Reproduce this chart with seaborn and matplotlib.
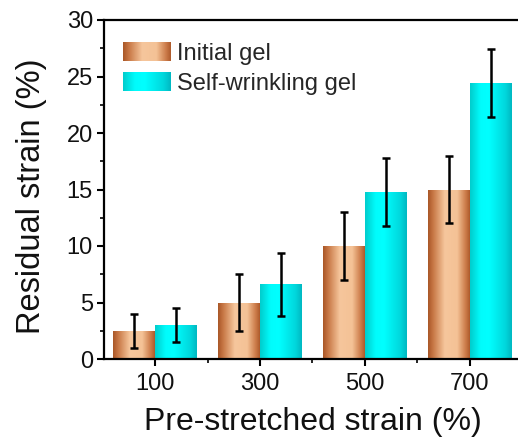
import numpy as np
import pandas as pd
import seaborn as sns
import matplotlib.pyplot as plt
from matplotlib.patches import Patch
from matplotlib.ticker import MultipleLocator, FixedLocator

strain = ['100', '300', '500', '700']
groups = ['Initial gel', 'Self-wrinkling gel']
initial = [2.5, 5.0, 10.0, 15.0]
initial_err = [1.5, 2.5, 3.0, 3.0]
wrinkled = [3.0, 6.6, 14.8, 24.4]
wrinkled_err = [1.5, 2.8, 3.0, 3.0]

df = pd.DataFrame({
    'strain': strain * 2,
    'group': [groups[0]] * 4 + [groups[1]] * 4,
    'value': initial + wrinkled,
})

sns.set_style('ticks')
plt.rcParams['font.family'] = ['Liberation Sans', 'DejaVu Sans']


def gradient(stops, n=64):
    pos = np.array([s[0] for s in stops])
    cols = np.array([s[1] for s in stops], dtype=float) / 255
    x = np.linspace(0, 1, n)
    rgb = np.stack([np.interp(x, pos, cols[:, k]) for k in range(3)], axis=-1)
    return rgb[np.newaxis, :, :]


copper = gradient([(0, (170, 88, 40)), (0.12, (200, 120, 70)), (0.4, (246, 198, 156)),
                   (0.7, (244, 194, 150)), (0.9, (205, 125, 75)), (1, (175, 92, 45))])
cyan = gradient([(0, (0, 205, 205)), (0.25, (0, 252, 252)), (0.45, (0, 255, 255)),
                 (0.85, (0, 215, 220)), (1, (0, 185, 195))])
fills = [copper, cyan]

fig = plt.figure(figsize=(5.18, 4.46), dpi=100)
ax = fig.add_axes([104 / 518, 87 / 446, 417 / 518, 339 / 446])

sns.barplot(data=df, x='strain', y='value', hue='group', order=strain, hue_order=groups,
            palette=['#e0a070', '#00ffff'], width=0.8, errorbar=None, ax=ax, zorder=2)

errs = [initial_err, wrinkled_err]
vals = [initial, wrinkled]
bar_conts = list(ax.containers)
for i, cont in enumerate(bar_conts):
    xs = []
    for bar in cont:
        x0, y0, w, h = bar.get_x(), bar.get_y(), bar.get_width(), bar.get_height()
        img = ax.imshow(fills[i], extent=[x0, x0 + w, y0, y0 + h], aspect='auto',
                        interpolation='bilinear', zorder=2)
        img.set_clip_path(bar)
        bar.set_facecolor('none')
        bar.set_edgecolor('none')
        xs.append(x0 + w / 2)
    ax.errorbar(xs, vals[i], yerr=errs[i], fmt='none', ecolor='black', elinewidth=1.8,
                capsize=3.2, capthick=1.8, zorder=4)

ax.set_xlim(-0.486, 3.486)
ax.set_ylim(0, 30)
ax.yaxis.set_major_locator(MultipleLocator(5))
ax.yaxis.set_minor_locator(MultipleLocator(2.5))
ax.xaxis.set_minor_locator(FixedLocator([0.5, 1.5, 2.5]))
ax.tick_params(axis='both', which='major', direction='out', length=5, width=1.5,
               labelsize=17, color='black', labelcolor='#111111', pad=3)
ax.tick_params(axis='both', which='minor', direction='out', length=3, width=1.2, color='black')
ax.tick_params(axis='x', which='major', pad=5)
for s in ['left', 'bottom', 'top', 'right']:
    ax.spines[s].set_visible(True)
    ax.spines[s].set_linewidth(1.6)
    ax.spines[s].set_color('black')

ax.set_xlabel('Pre-stretched strain (%)', fontsize=23, labelpad=9, color='#111111')
ax.set_ylabel('Residual strain (%)', fontsize=23.5, labelpad=14, color='#111111')
ax.yaxis.label.set_y(0.48)

handles = [Patch(facecolor='#e0a070', edgecolor='none'), Patch(facecolor='#00ffff', edgecolor='none')]
leg = ax.legend(handles, groups, loc='upper left', bbox_to_anchor=(0.005, 0.985), frameon=False,
                fontsize=17, handlelength=2.0, handleheight=0.9, handletextpad=0.3,
                labelspacing=0.3, borderaxespad=0.3)

# draw gradients over legend swatches
fig.canvas.draw()
inv = fig.transFigure.inverted()
for i, p in enumerate(leg.get_patches()):
    bb = p.get_window_extent().transformed(inv)
    sub = fig.add_axes([bb.x0, bb.y0, bb.width, bb.height])
    sub.imshow(fills[i], aspect='auto', interpolation='bilinear')
    sub.set_axis_off()

fig.savefig('out.png', dpi=100)
